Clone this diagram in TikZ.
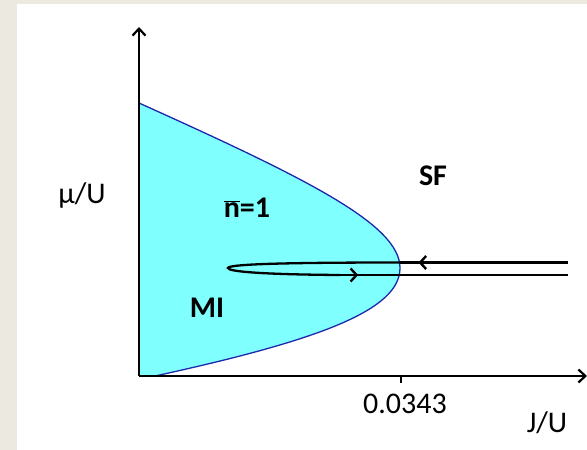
\documentclass[tikz,border=0pt]{standalone}
\usepackage{fontspec}
\setmainfont{Carlito}
\usetikzlibrary{arrows.meta,decorations.markings}
\definecolor{bgbeige}{RGB}{236,234,224}
\definecolor{mott}{RGB}{128,255,255}
\definecolor{bnd}{RGB}{30,40,170}
\tikzset{
  lbl/.style={font=\fontsize{30}{32}\selectfont, inner sep=0pt, anchor=base},
  blbl/.style={font=\fontsize{30}{32}\selectfont\bfseries, inner sep=0pt, anchor=base},
  axisline/.style={line width=2.5pt, -{Straight Barb[length=7pt,width=13pt,line width=2.2pt]}},
  pathline/.style={line width=2.3pt},
  midarrow/.style={postaction={decorate}, decoration={markings, mark=at position #1 with {\arrow{Straight Barb[length=6pt,width=13pt,line width=2.4pt]}}}},
}
\begin{document}
\begin{tikzpicture}[x=1pt,y=-1pt]
\useasboundingbox (0,0) rectangle (587,450);
\fill[bgbeige] (0,0) rectangle (587,450);
\fill[white] (17,4) rectangle (587,450);

% coordinates
\coordinate (O) at (139,376);
\coordinate (Ytop) at (139,27);
\coordinate (Xend) at (587,376);
\coordinate (Ltop) at (139,103);
\coordinate (Ltip) at (400,268);
\coordinate (Lbot) at (155,376);

% Mott lobe
\fill[mott] (Ltop) .. controls (310,180) and (400,225) .. (Ltip)
  .. controls (400,310) and (320,340) .. (Lbot) -- (O) -- cycle;
\draw[bnd, line width=1.3pt] (Ltop) .. controls (310,180) and (400,225) .. (Ltip)
  .. controls (400,310) and (320,340) .. (Lbot);

% axes
\draw[axisline] (O) -- (Ytop);
\draw[axisline] (O) -- (Xend);
\coordinate (Tk1) at (401,376);
\coordinate (Tk2) at (401,383);
\draw[line width=2pt] (Tk1) -- (Tk2);

% hairpin path
\coordinate (R1) at (568,262.5);
\coordinate (P1) at (400,262.5);
\coordinate (H) at (228,268);
\coordinate (P2) at (340,275);
\coordinate (R2) at (568,275);
\draw[pathline, midarrow=0.89] (R1) -- (P1);
\draw[pathline] (P1) .. controls (290,262.5) and (228,264) .. (H)
  .. controls (228,272) and (270,274.5) .. (P2);
\draw[pathline, midarrow=0.08] (P2) -- (R2);

% labels
\node[lbl] (mu) at (82,203) {μ/U};
\node[blbl] (n1) at (247,217) {$\overline{\mbox{n}}$=1};
\node[blbl] (mi) at (207,317) {MI};
\node[blbl] (sf) at (433,185) {SF};
\node[lbl] (jc) at (405,413) {0.0343};
\node[lbl] (ju) at (547,432) {J/U};
\end{tikzpicture}
\end{document}
